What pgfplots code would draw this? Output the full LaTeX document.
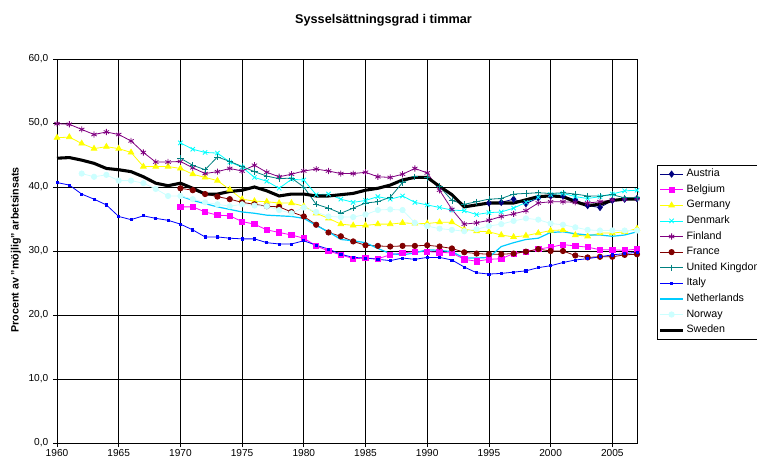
\documentclass[border=0pt]{standalone}
\usepackage{fontspec}
\setmainfont{Liberation Sans}
\usepackage{pgfplots}
\usepackage{pgfplotstable}
\pgfplotsset{compat=1.18}

\definecolor{cAustria}{HTML}{000080}
\definecolor{cBelgium}{HTML}{FF00FF}
\definecolor{cGermany}{HTML}{FFFF00}
\definecolor{cDenmark}{HTML}{00FFFF}
\definecolor{cFinland}{HTML}{800080}
\definecolor{cFrance}{HTML}{800000}
\definecolor{cUK}{HTML}{008080}
\definecolor{cItaly}{HTML}{0000FF}
\definecolor{cNetherlands}{HTML}{00CCFF}
\definecolor{cNorway}{HTML}{CCFFFF}

% hours-based employment rate, one table per country
\pgfplotstableread{
year val
1995 37.5
1996 37.6
1997 38.1
1998 37.4
1999 38.3
2000 38.6
2001 38.6
2002 38.0
2003 37.1
2004 36.8
2005 37.9
2006 38.1
2007 38.2
}\austria
\pgfplotstableread{
year val
1970 36.9
1971 36.9
1972 36.1
1973 35.6
1974 35.5
1975 34.6
1976 34.2
1977 33.3
1978 32.9
1979 32.5
1980 32.0
1981 30.8
1982 30.0
1983 29.4
1984 28.8
1985 28.9
1986 28.8
1987 29.4
1988 29.7
1989 29.9
1990 29.9
1991 29.8
1992 29.7
1993 28.7
1994 28.4
1995 28.7
1996 28.8
1997 29.6
1998 29.9
1999 30.3
2000 30.6
2001 31.0
2002 30.8
2003 30.6
2004 30.2
2005 30.2
2006 30.1
2007 30.3
}\belgium
\pgfplotstableread{
year val
1960 47.7
1961 47.8
1962 46.8
1963 46.0
1964 46.3
1965 46.0
1966 45.4
1967 43.2
1968 43.2
1969 43.2
1970 42.9
1971 42.0
1972 41.5
1973 41.0
1974 39.6
1975 38.1
1976 37.8
1977 37.7
1978 37.5
1979 37.5
1980 37.0
1981 35.9
1982 35.1
1983 34.2
1984 34.0
1985 34.0
1986 34.2
1987 34.2
1988 34.4
1989 34.3
1990 34.3
1991 34.5
1992 34.5
1993 33.4
1994 33.1
1995 33.0
1996 32.5
1997 32.2
1998 32.4
1999 32.8
2000 33.2
2001 33.3
2002 32.5
2003 32.3
2004 32.8
2005 32.8
2006 33.0
2007 33.5
}\germany
\pgfplotstableread{
year val
1970 46.9
1971 45.9
1972 45.4
1973 45.3
1974 43.9
1975 43.1
1976 41.5
1977 40.9
1978 39.8
1979 41.2
1980 41.1
1981 38.8
1982 38.9
1983 38.1
1984 37.6
1985 37.9
1986 38.5
1987 38.1
1988 38.6
1989 37.6
1990 37.2
1991 36.8
1992 36.4
1993 36.3
1994 35.7
1995 36.0
1996 36.1
1997 36.7
1998 37.6
1999 38.4
2000 38.8
2001 39.0
2002 38.5
2003 38.2
2004 38.5
2005 38.9
2006 39.4
2007 39.5
}\denmark
\pgfplotstableread{
year val
1960 49.9
1961 49.8
1962 49.0
1963 48.2
1964 48.6
1965 48.2
1966 47.2
1967 45.4
1968 43.9
1969 43.9
1970 44.0
1971 43.0
1972 42.1
1973 42.4
1974 42.9
1975 42.5
1976 43.4
1977 42.3
1978 41.6
1979 42.0
1980 42.5
1981 42.8
1982 42.5
1983 42.1
1984 42.1
1985 42.3
1986 41.6
1987 41.5
1988 42.0
1989 42.9
1990 42.2
1991 39.5
1992 36.5
1993 34.2
1994 34.4
1995 34.8
1996 35.4
1997 35.8
1998 36.3
1999 37.5
2000 37.7
2001 37.7
2002 37.6
2003 37.5
2004 37.7
2005 38.0
2006 38.1
2007 38.2
}\finland
\pgfplotstableread{
year val
1970 39.8
1971 39.5
1972 38.9
1973 38.5
1974 38.1
1975 37.6
1976 37.3
1977 37.0
1978 36.9
1979 36.1
1980 35.4
1981 34.1
1982 32.9
1983 32.3
1984 31.5
1985 30.9
1986 30.8
1987 30.7
1988 30.8
1989 30.8
1990 30.9
1991 30.7
1992 30.4
1993 29.8
1994 29.6
1995 29.5
1996 29.5
1997 29.6
1998 29.9
1999 30.3
2000 30.0
2001 30.0
2002 29.3
2003 29.0
2004 29.1
2005 29.1
2006 29.4
2007 29.5
}\france
\pgfplotstableread{
year val
1970 44.5
1971 43.4
1972 42.7
1973 44.7
1974 44.0
1975 43.2
1976 42.4
1977 41.7
1978 41.3
1979 41.4
1980 40.0
1981 37.3
1982 36.7
1983 35.9
1984 36.7
1985 37.5
1986 37.7
1987 38.4
1988 40.7
1989 41.6
1990 41.5
1991 40.1
1992 37.9
1993 37.3
1994 37.7
1995 38.1
1996 38.2
1997 38.9
1998 39.0
1999 39.1
2000 39.0
2001 39.1
2002 38.9
2003 38.6
2004 38.6
2005 38.8
2006 38.3
2007 38.3
}\uk
\pgfplotstableread{
year val
1960 40.7
1961 40.3
1962 38.9
1963 38.1
1964 37.2
1965 35.4
1966 34.9
1967 35.5
1968 35.1
1969 34.8
1970 34.2
1971 33.3
1972 32.2
1973 32.2
1974 32.0
1975 31.9
1976 31.9
1977 31.3
1978 31.1
1979 31.1
1980 31.6
1981 30.9
1982 30.3
1983 29.5
1984 29.0
1985 28.9
1986 28.7
1987 28.5
1988 28.9
1989 28.7
1990 29.0
1991 29.0
1992 28.6
1993 27.5
1994 26.6
1995 26.4
1996 26.5
1997 26.7
1998 26.9
1999 27.4
2000 27.7
2001 28.2
2002 28.6
2003 28.8
2004 29.1
2005 29.4
2006 29.6
2007 29.8
}\italy
\pgfplotstableread{
year val
1970 38.6
1971 37.9
1972 37.4
1973 36.9
1974 36.5
1975 36.1
1976 35.9
1977 35.6
1978 35.5
1979 35.4
1980 35.1
1981 34.0
1982 33.0
1983 31.8
1984 31.6
1985 31.3
1986 30.4
1987 29.6
1988 29.4
1989 29.7
1990 30.2
1991 30.1
1992 29.9
1993 28.9
1994 28.9
1995 29.0
1996 30.7
1997 31.3
1998 31.8
1999 32.0
2000 32.9
2001 33.0
2002 32.7
2003 32.5
2004 32.5
2005 32.3
2006 32.5
2007 33.0
}\netherlands
\pgfplotstableread{
year val
1962 42.1
1963 41.6
1964 41.9
1965 41.0
1966 41.0
1967 40.6
1968 39.7
1969 38.6
1970 38.6
1971 38.1
1972 37.6
1973 37.3
1974 37.0
1975 37.3
1976 37.1
1977 37.0
1978 36.4
1979 35.9
1980 36.8
1981 36.1
1982 35.4
1983 35.3
1984 35.3
1985 35.7
1986 36.4
1987 36.5
1988 36.4
1989 34.4
1990 33.9
1991 33.5
1992 33.3
1993 33.1
1994 33.4
1995 33.9
1996 34.2
1997 34.7
1998 35.1
1999 34.9
2000 34.3
2001 34.1
2002 33.7
2003 33.3
2004 33.2
2005 33.2
2006 33.2
2007 33.2
}\norway
\pgfplotstableread{
year val
1960 44.5
1961 44.6
1962 44.2
1963 43.7
1964 42.9
1965 42.7
1966 42.4
1967 41.6
1968 40.6
1969 40.2
1970 40.6
1971 39.8
1972 38.9
1973 38.9
1974 39.3
1975 39.5
1976 40.0
1977 39.4
1978 38.6
1979 38.9
1980 38.9
1981 38.6
1982 38.6
1983 38.8
1984 39.0
1985 39.5
1986 39.8
1987 40.3
1988 41.1
1989 41.5
1990 41.5
1991 40.1
1992 38.8
1993 36.9
1994 37.2
1995 37.5
1996 37.5
1997 37.5
1998 38.0
1999 38.5
2000 38.6
2001 38.5
2002 37.7
2003 37.1
2004 37.3
2005 37.9
2006 38.1
2007 38.1
}\sweden

\begin{document}
\begin{tikzpicture}
\begin{axis}[
    scale only axis,
    width=435pt, height=288pt,
    xmin=1960, xmax=2007, ymin=0, ymax=60,
    xtick={1960,1965,...,2005},
    ytick={0,10,...,60},
    xtick pos=bottom, ytick pos=left,
    tick align=outside,
    major tick length=3pt,
    tick style={black, line width=0.5pt},
    xmajorgrids, ymajorgrids,
    grid style={black, line width=0.5pt},
    axis line style={black, line width=0.5pt},
    ticklabel style={font=\fontsize{7.6}{9}\selectfont},
    /pgf/number format/assume math mode=true,
    xticklabel style={/pgf/number format/1000 sep={}, inner ysep=1.5pt},
    yticklabel style={/pgf/number format/.cd, fixed, fixed zerofill, precision=1, use comma},
    ylabel={Procent av "möjlig" arbetsinsats},
    ylabel style={font=\bfseries\fontsize{8}{9.5}\selectfont,
        at={(axis description cs:-0.0707,0.503)}, anchor=center},
    clip=false,
    legend cell align=left,
    legend style={at={(1.0345,0.724)}, anchor=north west,
        draw=black, fill=white, line width=0.5pt,
        font=\fontsize{8}{9.5}\selectfont,
        inner xsep=1pt, inner ysep=1pt, row sep=0.5pt,
        nodes={inner xsep=1.5pt, inner ysep=2.1pt, text height=5.5pt, text depth=1.5pt}},
    every axis plot/.append style={line width=0.6pt},
]
\addplot[cAustria, mark=diamond*, mark size=2.3pt] table[x=year,y=val] {\austria};
\addlegendentry{Austria}
\addplot[cBelgium, mark=square*, mark size=2.0pt] table[x=year,y=val] {\belgium};
\addlegendentry{Belgium}
\addplot[cGermany, mark=triangle*, mark size=2.4pt] table[x=year,y=val] {\germany};
\addlegendentry{Germany}
\addplot[cDenmark, mark=x, mark size=2.3pt] table[x=year,y=val] {\denmark};
\addlegendentry{Denmark}
\addplot[cFinland, mark=asterisk, mark size=2.3pt] table[x=year,y=val] {\finland};
\addlegendentry{Finland}
\addplot[cFrance, mark=*, mark size=2.0pt] table[x=year,y=val] {\france};
\addlegendentry{France}
\addplot[cUK, mark=+, mark size=2.4pt] table[x=year,y=val] {\uk};
\addlegendentry{United Kingdom}
\addplot[cItaly, mark=square*, mark size=0.8pt] table[x=year,y=val] {\italy};
\addlegendentry{Italy}
\addplot[cNetherlands, no marks, line width=0.9pt] table[x=year,y=val] {\netherlands};
\addlegendentry{Netherlands}
\addplot[cNorway, mark=*, mark size=2.0pt] table[x=year,y=val] {\norway};
\addlegendentry{Norway}
\addplot[black, no marks, line width=2.3pt] table[x=year,y=val] {\sweden};
\addlegendentry{Sweden}

\node[font=\bfseries\fontsize{9.5}{11}\selectfont] at (axis description cs:0.563,1.1016) {Sysselsättningsgrad i timmar};
\coordinate (bbSW) at (axis description cs:-0.0983,-0.0495);
\coordinate (bbNE) at (axis description cs:1.2069,1.1537);
\end{axis}
\pgfresetboundingbox
\path[use as bounding box] (bbSW) rectangle (bbNE);
\end{tikzpicture}
\end{document}
